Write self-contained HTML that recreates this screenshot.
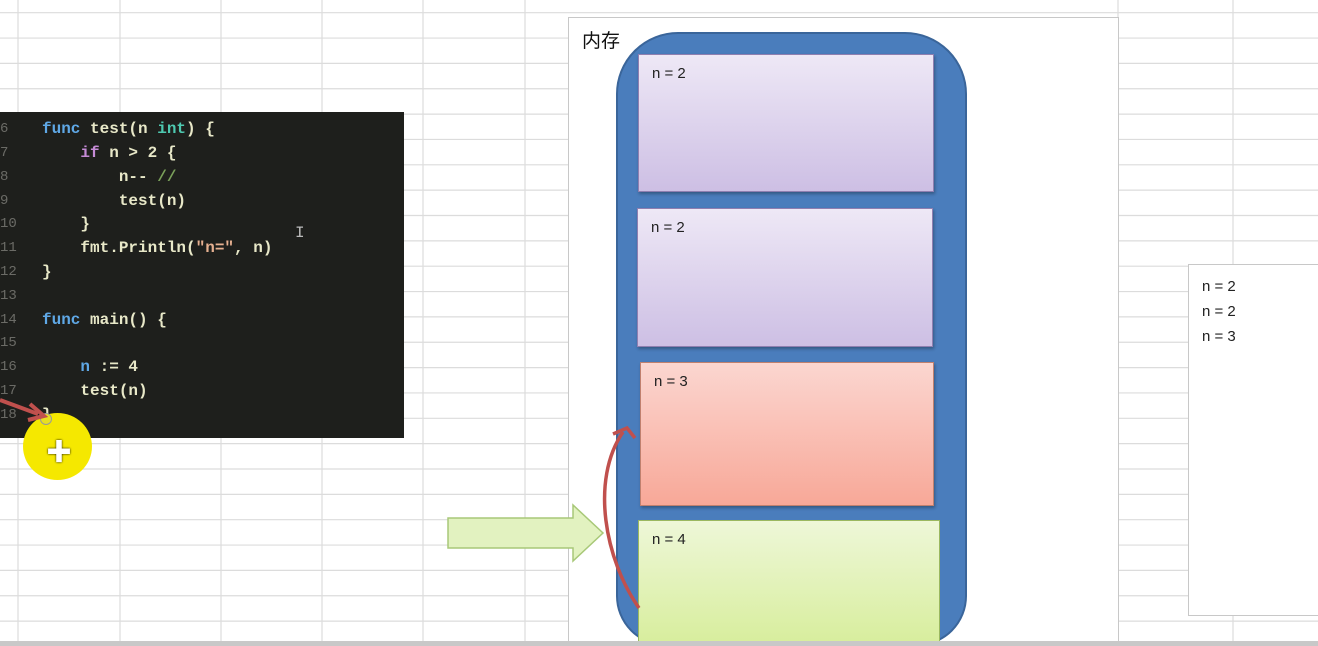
<!DOCTYPE html>
<html style="width:1318px;height:646px;overflow:hidden;margin:0"><head><meta charset="utf-8"><style>
body{margin:0;width:1318px;height:646px;overflow:hidden;background:#fff;position:relative;font-family:"Liberation Sans","Noto Sans CJK SC",sans-serif}
#wrap{position:absolute;left:0;top:0;width:1318px;height:646px;overflow:hidden}
.abs{position:absolute}
#code{left:0;top:112px;width:404px;height:326px;background:#1e1f1c;font-family:"Liberation Mono",monospace;font-size:16px;font-weight:bold}
.ln{position:absolute;left:0;color:#6b6b66;font-weight:normal;font-size:14px}
.cl{position:absolute;left:42px;color:#e8e8c8;white-space:pre}
.kw{color:#5fa8e6}.if{color:#c58bd6}.ty{color:#4ec9b0}.st{color:#e6b090}.cm{color:#7aa05a}
.box{position:absolute;border:1px solid #8f7fb0;box-shadow:1px 2px 3px rgba(0,0,0,.3);font-size:15px;color:#222}
.box span{position:absolute;left:13px;top:10px}
</style></head><body>
<div id="wrap">
<svg class="abs" style="left:0;top:0" width="1318" height="646">
<g stroke="#dcdcdc" stroke-width="1.2">
<line x1="18" y1="0" x2="18" y2="646"/><line x1="120" y1="0" x2="120" y2="646"/><line x1="221" y1="0" x2="221" y2="646"/><line x1="322" y1="0" x2="322" y2="646"/><line x1="423" y1="0" x2="423" y2="646"/><line x1="525" y1="0" x2="525" y2="646"/><line x1="1118" y1="0" x2="1118" y2="646"/><line x1="1233" y1="0" x2="1233" y2="646"/>
</g>
<g id="hl" stroke="#dcdcdc" stroke-width="1.2"></g>
</svg>
<script>
var g=document.getElementById('hl');
for(var y=12.7;y<646;y+=25.35){var l=document.createElementNS('http://www.w3.org/2000/svg','line');l.setAttribute('x1',0);l.setAttribute('x2',1318);l.setAttribute('y1',y);l.setAttribute('y2',y);g.appendChild(l);}
</script>

<div id="code" class="abs">
<div class="ln" style="top:9px">6</div><div class="cl" style="top:8px"><span class="kw">func</span> test(n <span class="ty">int</span>) {</div>
<div class="ln" style="top:33px">7</div><div class="cl" style="top:32px">    <span class="if">if</span> n &gt; 2 {</div>
<div class="ln" style="top:57px">8</div><div class="cl" style="top:56px">        n-- <span class="cm">//</span></div>
<div class="ln" style="top:81px">9</div><div class="cl" style="top:80px">        test(n)</div>
<div class="ln" style="top:104px">10</div><div class="cl" style="top:103px">    }</div>
<div class="ln" style="top:128px">11</div><div class="cl" style="top:127px">    fmt.Println(<span class="st">"n="</span>, n)</div>
<div class="ln" style="top:152px">12</div><div class="cl" style="top:151px">}</div>
<div class="ln" style="top:176px">13</div>
<div class="ln" style="top:200px">14</div><div class="cl" style="top:199px"><span class="kw">func</span> main() {</div>
<div class="ln" style="top:223px">15</div>
<div class="ln" style="top:247px">16</div><div class="cl" style="top:246px">    <span class="kw">n</span> := 4</div>
<div class="ln" style="top:271px">17</div><div class="cl" style="top:270px">    test(n)</div>
<div class="ln" style="top:295px">18</div><div class="cl" style="top:294px">}</div>
<div class="abs" style="left:295px;top:112px;color:#bbb;font-weight:normal">I</div>
</div>
<div class="abs" style="left:23px;top:413px;width:69px;height:67px;border-radius:50%;background:#f5e800"></div>
<div class="abs" style="left:40px;top:413px;width:10px;height:10px;border-radius:50%;background:#e8e020;border:1px solid #999"></div>
<div class="abs" style="left:46px;top:432px;color:#fff;font-size:26px;font-weight:bold;text-shadow:0 0 2px #000">✚</div>
<svg class="abs" style="left:0;top:390px" width="60" height="40"><path d="M0 10 L38 24" stroke="#c0504d" stroke-width="4"/><path d="M30 14 L44 26 L28 30" fill="none" stroke="#c0504d" stroke-width="4"/></svg>

<div class="abs" style="left:568px;top:17px;width:549px;height:627px;border:1px solid #c8c8c8;border-bottom:none;background:#fff"></div>
<div class="abs" style="left:582px;top:26px;font-size:19px;color:#111">内存</div>
<div class="abs" style="left:616px;top:32px;width:347px;height:610px;border-radius:62px 62px 50px 50px;background:#4a7dbc;border:2px solid #3a659a"></div>
<div class="box" style="left:638px;top:54px;width:294px;height:136px;background:linear-gradient(#eee8f6,#cdbfe4)"><span>n = 2</span></div>
<div class="box" style="left:637px;top:208px;width:294px;height:137px;background:linear-gradient(#eee8f6,#cdbfe4)"><span>n = 2</span></div>
<div class="box" style="left:640px;top:362px;width:292px;height:142px;background:linear-gradient(#fbd6d0,#f8a898);border-color:#c0806e"><span>n = 3</span></div>
<div class="box" style="left:638px;top:520px;width:300px;height:120px;background:linear-gradient(#eef7d8,#d8ee9e);border-color:#9bb860;box-shadow:none"><span>n = 4</span></div>
<svg class="abs" style="left:440px;top:500px" width="170" height="65"><path d="M8 18 H133 V5 L163 33 L133 61 V48 H8 Z" fill="#e2f2c0" stroke="#a8c878" stroke-width="1.5"/></svg>
<svg class="abs" style="left:595px;top:420px" width="50" height="195"><path d="M44 188 C10 140 -5 60 28 12" fill="none" stroke="#c0504d" stroke-width="3.5"/><path d="M18 14 L32 8 L40 18" fill="none" stroke="#c0504d" stroke-width="3.5"/></svg>

<div class="abs" style="left:1188px;top:264px;width:129px;height:350px;border:1px solid #c8c8c8;border-right:none;background:#fff;font-size:15px;color:#222;line-height:25px">
<div style="position:absolute;left:13px;top:9px">n = 2<br>n = 2<br>n = 3</div></div>
<div class="abs" style="left:0;top:641px;width:1318px;height:5px;background:#c8c8c8"></div>
</div>
</body></html>
